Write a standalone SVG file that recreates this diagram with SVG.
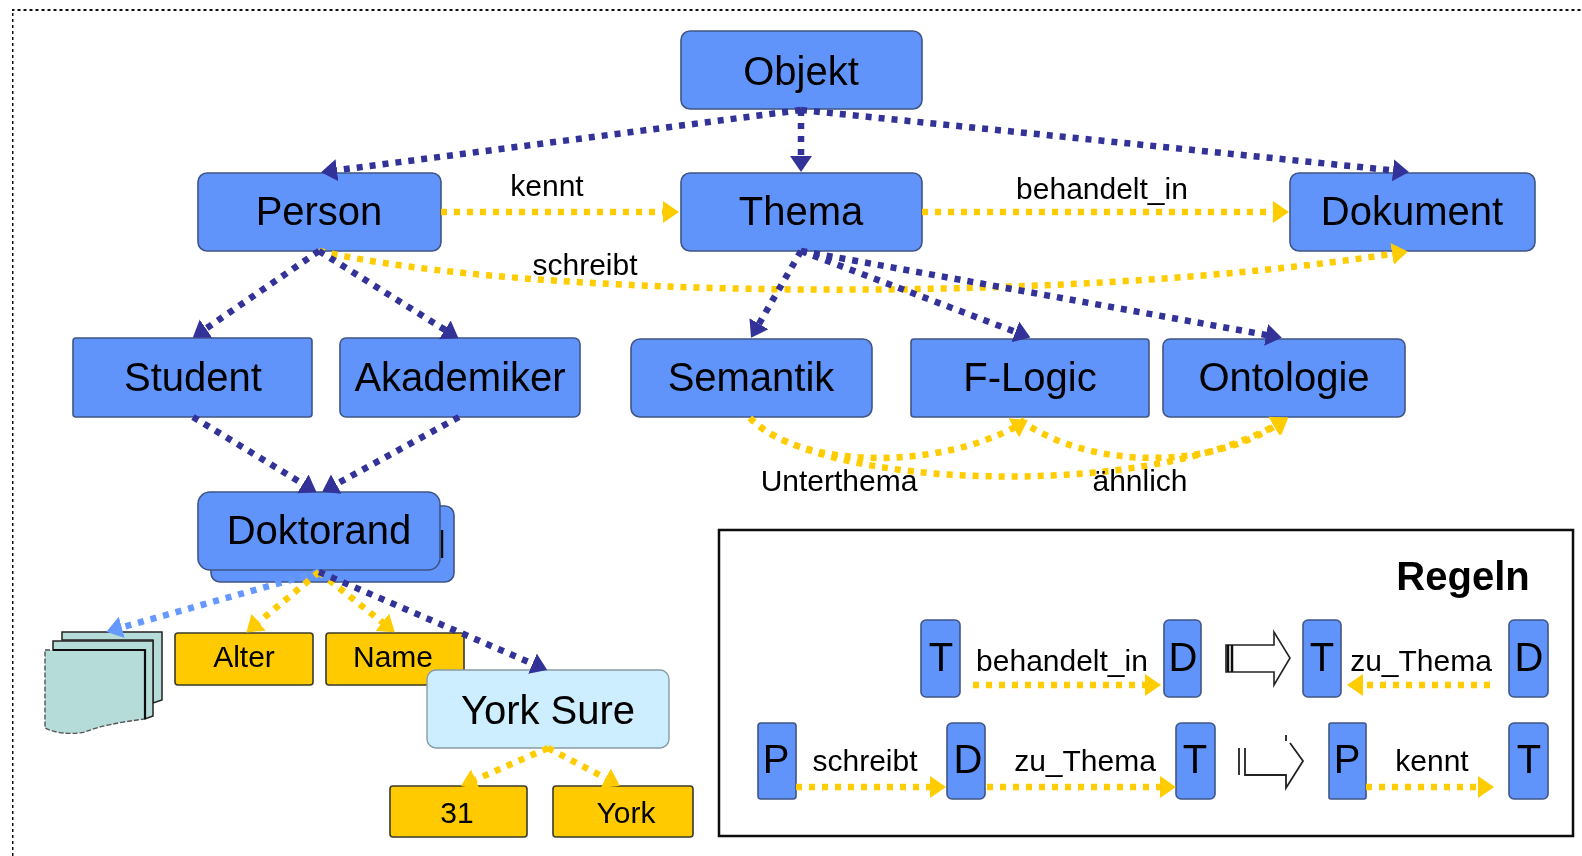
<svg xmlns="http://www.w3.org/2000/svg" width="1582" height="856" viewBox="0 0 1582 856">
<style>
text{font-family:"Liberation Sans",Arial,sans-serif;fill:#000;text-anchor:middle}
.t{font-size:40px}.s{font-size:30px}.b{font-size:40px;font-weight:bold}
.n{fill:#6094fb;stroke:#3f5585;stroke-width:1.6}
.o{fill:#ffcb00;stroke:#3a3a2a;stroke-width:1.6}
.y{fill:#cceeff;stroke:#8a9aa5;stroke-width:1.4}
.c{fill:none;stroke-width:6.500;stroke-dasharray:6 7}
.navy{stroke:#333399}.gold{stroke:#ffcc00}.lb{stroke:#6699ff}
.dc{fill:#b5dcd8;stroke:#222;stroke-width:1.5}
.h{fill:#fff;stroke:#222;stroke-width:1.6}
</style>
<defs>
<filter id="soft" x="0" y="0" width="100%" height="100%"><feGaussianBlur stdDeviation="0.6"/></filter>
<marker id="an" markerUnits="userSpaceOnUse" markerWidth="20" markerHeight="24" refX="6" refY="11" orient="auto"><path d="M0 0L16 11L0 22z" fill="#333399"/></marker>
<marker id="ag" markerUnits="userSpaceOnUse" markerWidth="20" markerHeight="24" refX="6" refY="11" orient="auto"><path d="M0 0L16 11L0 22z" fill="#ffcc00"/></marker>
<marker id="al" markerUnits="userSpaceOnUse" markerWidth="20" markerHeight="24" refX="6" refY="11" orient="auto"><path d="M0 0L16 11L0 22z" fill="#6699ff"/></marker>
</defs>
<g filter="url(#soft)">
<path id="frame" d="M12 856V9.500H1582" fill="none" stroke="#111" stroke-width="3" stroke-dasharray="3 3"/>
<g id="objekt"><rect class="n" x="681" y="31" width="241" height="78" rx="9"/><text class="t" x="801" y="85">Objekt</text></g>
<g id="person"><rect class="n" x="198" y="173" width="243" height="78" rx="9"/><text class="t" x="319" y="225">Person</text></g>
<g id="thema"><rect class="n" x="681" y="173" width="241" height="78" rx="9"/><text class="t" x="801" y="225">Thema</text></g>
<g id="dokument"><rect class="n" x="1290" y="173" width="245" height="78" rx="9"/><text class="t" x="1412" y="225">Dokument</text></g>
<g id="student"><rect class="n" x="73" y="338" width="239" height="79" rx="3"/><text class="t" x="193" y="391">Student</text></g>
<g id="akademiker"><rect class="n" x="340" y="338" width="240" height="79" rx="6"/><text class="t" x="460" y="391">Akademiker</text></g>
<g id="semantik"><rect class="n" x="631" y="339" width="241" height="78" rx="9"/><text class="t" x="751" y="391">Semantik</text></g>
<g id="flogic"><rect class="n" x="911" y="339" width="238" height="78" rx="3"/><text class="t" x="1030" y="391">F-Logic</text></g>
<g id="ontologie"><rect class="n" x="1163" y="339" width="242" height="78" rx="7"/><text class="t" x="1284" y="391">Ontologie</text></g>
<g id="doktorand"><rect class="n" x="211" y="506" width="243" height="76" rx="9"/><path d="M442 530V558" stroke="#111" stroke-width="2.500" fill="none"/><rect class="n" x="198" y="492" width="242" height="78" rx="12"/><text class="t" x="319" y="544">Doktorand</text></g>
<g id="dokumente"><path class="dc" d="M62 632H162V700L153 703V640H62z"/><path class="dc" d="M53 641H153V716L145 719V650H53z"/><path d="M45 650H145V719C120 722 100 726 85 732C70 735 55 733 45 728z" fill="#b5dcd8" stroke="#555" stroke-width="1.400" stroke-dasharray="5 2"/><path d="M53 650H145V719" fill="none" stroke="#111" stroke-width="2.200"/></g>
<g id="alter"><rect class="o" x="175" y="633" width="138" height="52" rx="3"/><text class="s" x="244" y="667">Alter</text></g>
<g id="name"><rect class="o" x="326" y="633" width="138" height="52" rx="3"/><text class="s" x="393" y="667">Name</text></g>
<g id="yorksure"><rect class="y" x="427" y="670" width="242" height="78" rx="9"/><text class="t" x="548" y="724">York Sure</text></g>
<g id="v31"><rect class="o" x="390" y="786" width="137" height="51" rx="3"/><text class="s" x="457" y="823">31</text></g>
<g id="vyork"><rect class="o" x="553" y="786" width="140" height="51" rx="3"/><text class="s" x="626" y="823">York</text></g>

<g id="regeln"><rect x="719" y="530" width="854" height="306" fill="#fff" stroke="#111" stroke-width="2.500"/><text class="b" x="1463" y="590">Regeln</text></g>
<g id="r1t"><rect class="n" x="921" y="620" width="39" height="77" rx="5"/><text class="t" x="941" y="671">T</text></g>
<g id="r1d"><rect class="n" x="1164" y="620" width="37" height="77" rx="5"/><text class="t" x="1183" y="671">D</text></g>
<g id="r1t2"><rect class="n" x="1303" y="620" width="38" height="77" rx="5"/><text class="t" x="1322" y="671">T</text></g>
<g id="r1d2"><rect class="n" x="1509" y="620" width="39" height="77" rx="5"/><text class="t" x="1529" y="671">D</text></g>
<g id="r2p"><rect class="n" x="758" y="723" width="38" height="76" rx="3"/><text class="t" x="776" y="773">P</text></g>
<g id="r2d"><rect class="n" x="947" y="723" width="38" height="76" rx="5"/><text class="t" x="968" y="773">D</text></g>
<g id="r2t"><rect class="n" x="1176" y="723" width="39" height="76" rx="5"/><text class="t" x="1195" y="773">T</text></g>
<g id="r2p2"><rect class="n" x="1329" y="723" width="37" height="76" rx="2"/><text class="t" x="1347" y="773">P</text></g>
<g id="r2t2"><rect class="n" x="1509" y="723" width="39" height="76" rx="5"/><text class="t" x="1529" y="773">T</text></g>
<g id="imply1"><path class="h" d="M1226 645H1274V632L1290 658L1274 685V672H1226z"/><path d="M1228 645V672M1232 645V672" stroke="#111" stroke-width="2.500" fill="none"/></g>
<g id="imply2"><path d="M1239 775V748M1245 748V775H1286V788L1303 761L1290 743M1286 735V741" fill="none" stroke="#222" stroke-width="1.800"/></g>

<g id="connectors">
<path class="c navy" marker-end="url(#an)" d="M801 110L331 171"/>
<path class="c navy" marker-end="url(#an)" d="M801 110V162"/>
<path class="c navy" marker-end="url(#an)" d="M801 110L1399 171"/>
<path class="c gold" marker-end="url(#ag)" d="M441 212H669"/>
<path class="c gold" marker-end="url(#ag)" d="M922 212H1279"/>
<path class="c gold" marker-end="url(#ag)" d="M319 251C520 297 1050 307 1398 253"/>
<path class="c navy" marker-end="url(#an)" d="M319 251L201 332"/>
<path class="c navy" marker-end="url(#an)" d="M319 251L450 333"/>
<path class="c navy" marker-end="url(#an)" d="M801 251L756 329"/>
<path class="c navy" marker-end="url(#an)" d="M801 251L1021 334"/>
<path class="c navy" marker-end="url(#an)" d="M801 251L1272 336"/>
<path class="c navy" marker-end="url(#an)" d="M193 417L308 487"/>
<path class="c navy" marker-end="url(#an)" d="M459 417L331 487"/>
<path class="c lb" marker-end="url(#al)" d="M319 572L116 629"/>
<path class="c gold" marker-end="url(#ag)" d="M319 572L254 626"/>
<path class="c gold" marker-end="url(#ag)" d="M319 572L387 626"/>
<path class="c navy" marker-end="url(#an)" d="M319 572L538 666"/>
<path class="c gold" marker-end="url(#ag)" d="M548 748L470 782"/>
<path class="c gold" marker-end="url(#ag)" d="M548 748L611 781"/>
<path class="c gold" marker-end="url(#ag)" d="M750 418C800 470 938 470 1019 425"/>
<path class="c gold" marker-end="url(#ag)" d="M750 418C820 490 1150 500 1279 423"/>
<path class="c gold" marker-end="url(#ag)" d="M1020 420C1090 470 1210 470 1280 423"/>
<path class="c gold" marker-end="url(#ag)" d="M973 685H1151"/>
<path class="c gold" marker-end="url(#ag)" d="M1490 685H1357"/>
<path class="c gold" marker-end="url(#ag)" d="M796 787H936"/>
<path class="c gold" marker-end="url(#ag)" d="M987 787H1166"/>
<path class="c gold" marker-end="url(#ag)" d="M1366 787H1484"/>
</g>
<g id="labels">
<text class="s" x="547" y="196">kennt</text>
<text class="s" x="1102" y="199">behandelt_in</text>
<text class="s" x="585" y="275">schreibt</text>
<text class="s" x="839" y="491">Unterthema</text>
<text class="s" x="1140" y="491">ähnlich</text>
<text class="s" x="1062" y="671">behandelt_in</text>
<text class="s" x="1421" y="671">zu_Thema</text>
<text class="s" x="865" y="771">schreibt</text>
<text class="s" x="1085" y="771">zu_Thema</text>
<text class="s" x="1432" y="771">kennt</text>
</g>
</g>
</svg>
